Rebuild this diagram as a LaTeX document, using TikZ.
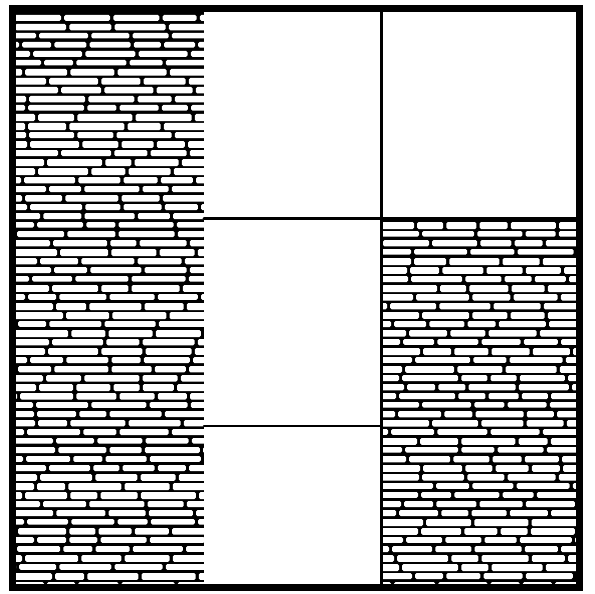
\documentclass[tikz,border=0pt]{standalone}
\usepackage{tikz}

\newcommand\brickrow[3]{%
  \pgfmathsetmacro\bx{#1-random(0,35)}%
  \pgfmathsetmacro\bh{random(55,72)/10}%
  \loop
    \pgfmathsetmacro\bl{random(26,56)}%
    \fill[brick] (\bx,#3) rectangle ++(\bl,\bh);
    \pgfmathsetmacro\bx{\bx+\bl+3.2}%
  \ifdim\bx pt<#2pt\repeat
}

\begin{document}
\begin{tikzpicture}[x=1pt,y=-1pt,
    brick/.style={fill=white,rounded corners=1.5pt},
    wall/.style={line width=#1,line cap=round}]
  \useasboundingbox (0,0) rectangle (595,594);
  \pgfmathsetseed{11}
  \coordinate (TL) at (12,9);
  \coordinate (BR) at (579,587);
  \begin{scope}
    \clip (12,9) rectangle (204,587);
    \fill[black] (12,9) rectangle (204,587);
    \foreach \r in {0,...,63} {\brickrow{14}{206}{15+9*\r}}
  \end{scope}
  \begin{scope}
    \clip (381,218) rectangle (579,587);
    \fill[black] (381,218) rectangle (579,587);
    \foreach \r in {0,...,40} {\brickrow{383}{581}{222+9*\r}}
  \end{scope}
  \draw[wall=3pt] (381,9) -- (381,587);
  \draw[wall=3pt] (204,218) -- (579,218);
  \draw[wall=2.5pt] (204,426) -- (381,426);
  \draw[wall=7pt] (TL) rectangle (BR);
\end{tikzpicture}
\end{document}
